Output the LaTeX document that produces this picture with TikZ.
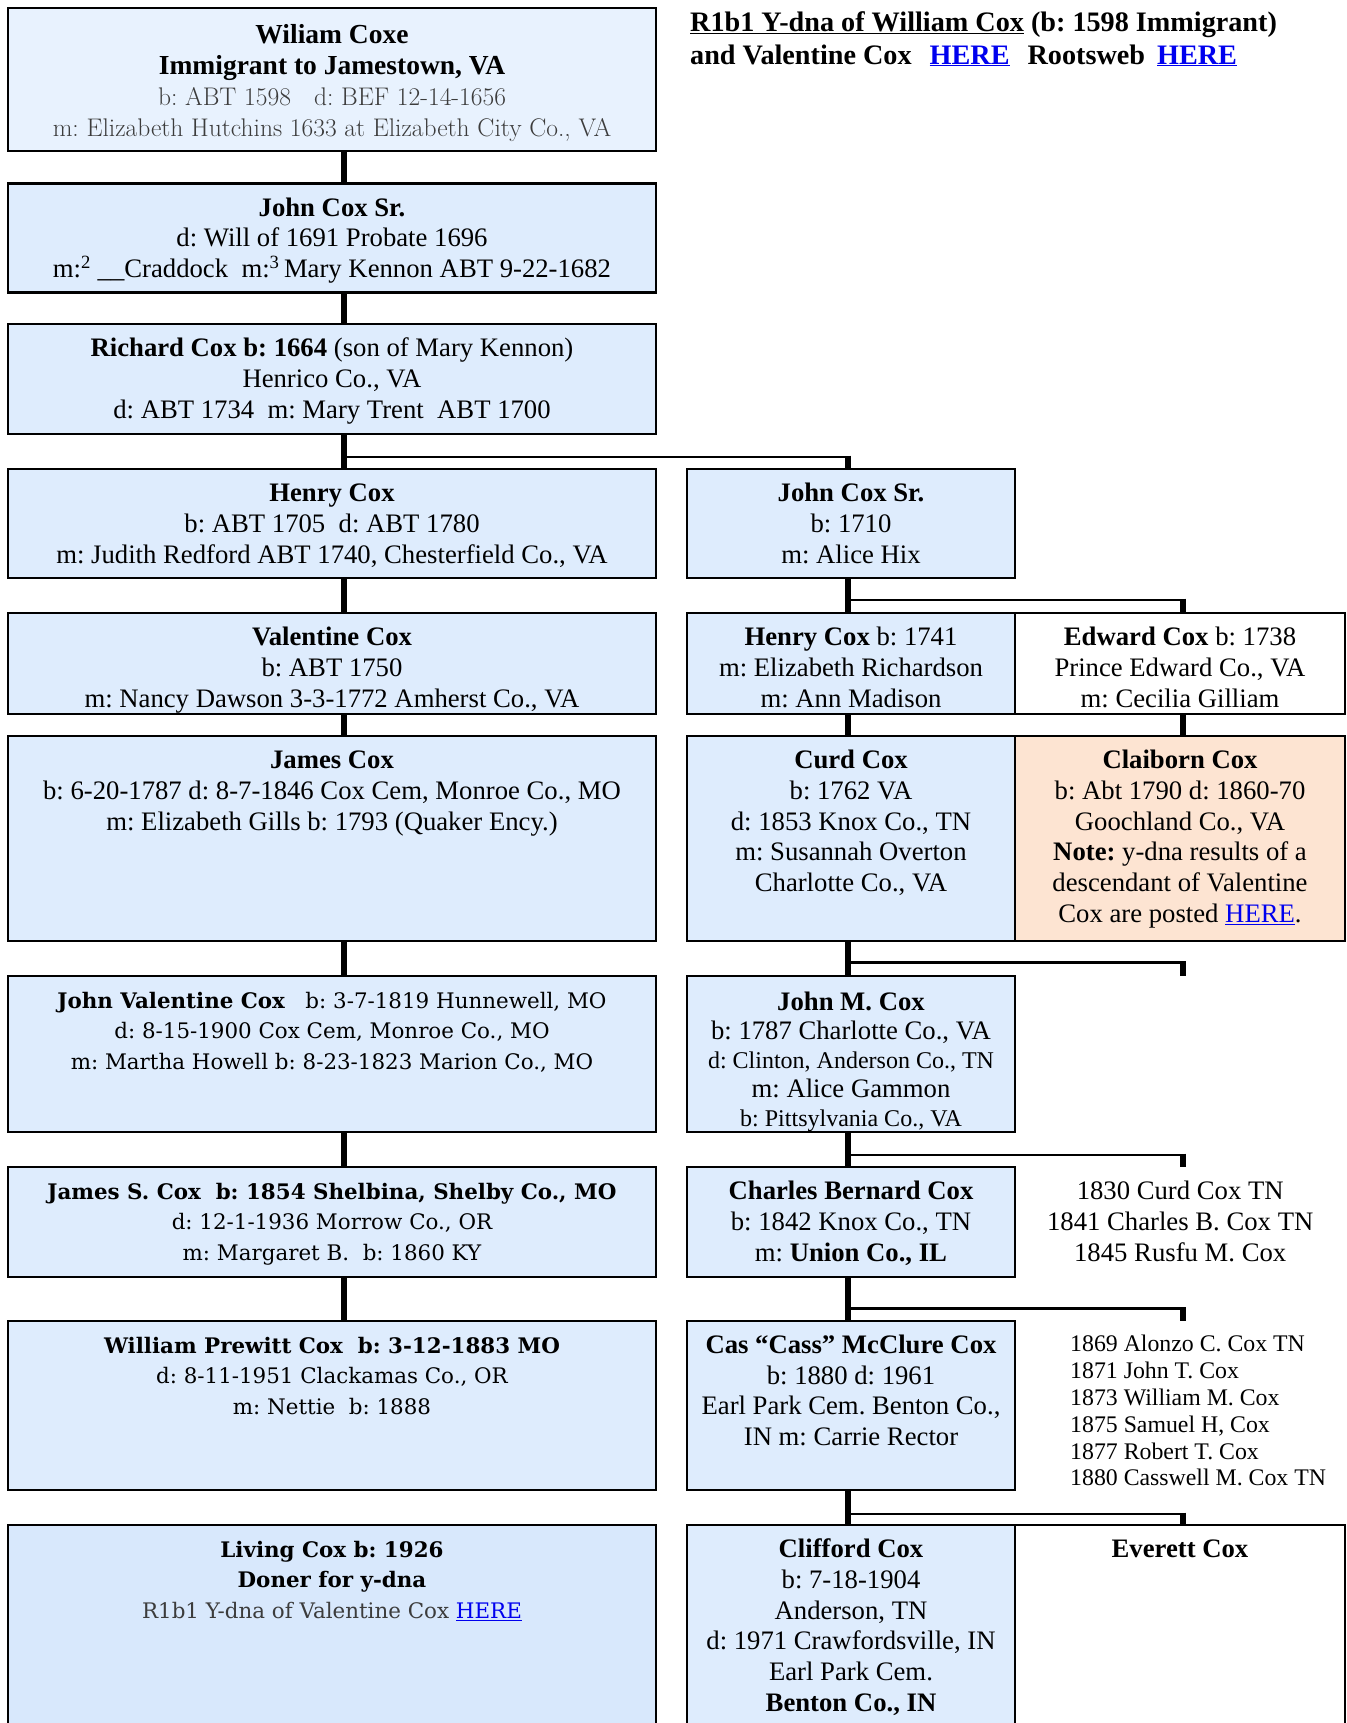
\documentclass[tikz,border=0pt]{standalone}
\usepackage{fontspec}
\setmainfont{Liberation Serif}
\newfontfamily\garfont{Latin Modern Roman}
\newfontfamily\widefont{DejaVu Serif}
\definecolor{famblue}{RGB}{222,236,253}
\definecolor{famlight}{RGB}{232,242,254}
\definecolor{famdeep}{RGB}{216,232,252}
\definecolor{fampeach}{RGB}{253,228,210}
\definecolor{linkblue}{RGB}{0,0,238}
\definecolor{softgray}{RGB}{60,60,60}
\newcommand{\famcell}[3]{\begin{minipage}[t][#2pt][t]{#1pt}\centering\vspace*{11pt}\strut#3\end{minipage}}
\newcommand{\herelink}{\textcolor{linkblue}{\underline{HERE}}}
\newcommand{\famhead}[1]{\textcolor{black}{\rmfamily\bfseries\fontsize{27.5}{31}\selectfont #1}}
\frenchspacing

\begin{document}
\begin{tikzpicture}[x=1pt,y=-1pt,
  fam/.style={draw, line width=2.2pt, fill=famblue, inner sep=0pt, outer sep=0pt, anchor=north west, font=\fontsize{26.7}{30.8}\selectfont},
  garfam/.style={fam, fill=famlight, font=\garfont\fontsize{25.5}{31}\selectfont\color{softgray}},
  widefam/.style={fam, font=\widefont\fontsize{21.4}{30.5}\selectfont},
  famnote/.style={inner sep=0pt, anchor=north west, font=\fontsize{26.7}{30.8}\selectfont},
  trunk/.style={line width=6pt},
  branch/.style={line width=2.6pt}]
\useasboundingbox (0,0) rectangle (1346,1723);

\node[anchor=north west, inner sep=0pt, font=\bfseries\fontsize{28.2}{33}\selectfont] (title) at (690,8)
  {\begin{minipage}[t]{650pt}\strut\underline{R1b1 Y-dna of William Cox} (b: 1598 Immigrant)\\
   and Valentine Cox\hspace{18pt}\herelink\hspace{18pt}Rootsweb\hspace{12pt}\herelink\end{minipage}};

% left line
\node[garfam] (william) at (8,7.7) {\famcell{648}{143}{\rule{0pt}{25pt}\famhead{Wiliam Coxe}\\
  \famhead{Immigrant to Jamestown, VA}\\ b: ABT 1598\ \ \ d: BEF 12-14-1656\\
  m: Elizabeth Hutchins 1633 at Elizabeth City Co., VA}};
\node[fam] (johnsr1) at (8,183.5) {\famcell{648}{109}{\textbf{John Cox Sr.}\\ d: Will of 1691 Probate 1696\\
  m:\textsuperscript{2} \_\_Craddock\ \ m:\textsuperscript{3}\,Mary Kennon ABT 9-22-1682}};
\node[fam] (richard) at (8,324) {\famcell{648}{110}{\textbf{Richard Cox b: 1664} (son of Mary Kennon)\\
  Henrico Co., VA\\ d: ABT 1734\ \ m: Mary Trent\ \ ABT 1700}};
\node[fam] (henry) at (8,469) {\famcell{648}{109}{\textbf{Henry Cox}\\ b: ABT 1705\ \ d: ABT 1780\\
  m: Judith Redford ABT 1740, Chesterfield Co., VA}};
\node[fam] (valentine) at (8,613) {\famcell{648}{101}{\textbf{Valentine Cox}\\ b: ABT 1750\\
  m: Nancy Dawson 3-3-1772 Amherst Co., VA}};
\node[fam] (james) at (8,736) {\famcell{648}{205}{\textbf{James Cox}\\
  b: 6-20-1787 d: 8-7-1846 Cox Cem, Monroe Co., MO\\ m: Elizabeth Gills b: 1793 (Quaker Ency.)}};
\node[widefam] (johnval) at (8,975.7) {\famcell{648}{156}{\textbf{John Valentine Cox}\ \ \ b: 3-7-1819 Hunnewell, MO\\
  d: 8-15-1900 Cox Cem, Monroe Co., MO\\ m: Martha Howell b: 8-23-1823 Marion Co., MO}};
\node[widefam] (jamess) at (8,1167) {\famcell{648}{110}{\textbf{James S. Cox\ \ b: 1854 Shelbina, Shelby Co., MO}\\
  d: 12-1-1936 Morrow Co., OR\\ m: Margaret B.\ \ b: 1860 KY}};
\node[widefam] (william2) at (8,1320.8) {\famcell{648}{169}{\textbf{William Prewitt Cox\ \ b: 3-12-1883 MO}\\
  d: 8-11-1951 Clackamas Co., OR\\ m: Nettie\ \ b: 1888}};
\node[widefam, fill=famdeep] (living) at (8,1525) {\famcell{648}{215}{\textbf{Living Cox b: 1926}\\ \textbf{Doner for y-dna}\\
  \textcolor{softgray}{R1b1 Y-dna of Valentine Cox} \herelink}};

% middle line
\node[fam] (johnsr2) at (687,469) {\famcell{328}{109}{\textbf{John Cox Sr.}\\ b: 1710\\ m: Alice Hix}};
\node[fam] (henry2) at (687,613) {\famcell{328}{101}{\textbf{Henry Cox} b: 1741\\ m: Elizabeth Richardson\\ m: Ann Madison}};
\node[fam] (curd) at (687,736) {\famcell{328}{205}{\textbf{Curd Cox}\\ b: 1762 VA\\ d: 1853 Knox Co., TN\\
  m: Susannah Overton\\ Charlotte Co., VA}};
\node[fam, font=\fontsize{26.7}{29}\selectfont] (johnm) at (687,975.7) {\famcell{328}{156}{\rule{0pt}{24pt}\textbf{John M. Cox}\\
  b: 1787 Charlotte Co., VA\\ {\fontsize{24}{29}\selectfont d: Clinton, Anderson Co., TN}\\
  m: Alice Gammon\\ {\fontsize{24}{29}\selectfont b: Pittsylvania Co., VA}}};
\node[fam] (charles) at (687,1167) {\famcell{328}{110}{\textbf{Charles Bernard Cox}\\ b: 1842 Knox Co., TN\\
  m: \textbf{Union Co., IL}}};
\node[fam] (cas) at (687,1320.8) {\famcell{328}{169}{\textbf{Cas “Cass” McClure Cox}\\ b: 1880 d: 1961\\
  Earl Park Cem. Benton Co.,\\ IN m: Carrie Rector}};
\node[fam] (clifford) at (687,1525) {\famcell{328}{215}{\textbf{Clifford Cox}\\ b: 7-18-1904\\ Anderson, TN\\
  d: 1971 Crawfordsville, IN\\ Earl Park Cem.\\ \textbf{Benton Co., IN}}};

% right line
\node[fam, fill=white] (edward) at (1015,613) {\famcell{330}{101}{\textbf{Edward Cox} b: 1738\\
  Prince Edward Co., VA\\ m: Cecilia Gilliam}};
\node[fam, fill=fampeach] (claiborn) at (1015,736) {\famcell{330}{205}{\textbf{Claiborn Cox}\\ b: Abt 1790 d: 1860-70\\
  Goochland Co., VA\\ \textbf{Note:} y-dna results of a\\ descendant of Valentine\\ Cox are posted \herelink.}};
\node[famnote] (kids1) at (1015,1167) {\famcell{330}{110}{1830 Curd Cox TN\\ 1841 Charles B. Cox TN\\ 1845 Rusfu M. Cox}};
\node[famnote, font=\fontsize{23.8}{26.8}\selectfont] (kids2) at (1070,1333) {\begin{minipage}[t]{270pt}\strut
  1869 Alonzo C. Cox TN\\ 1871 John T. Cox\\ 1873 William M. Cox\\ 1875 Samuel H, Cox\\
  1877 Robert T. Cox\\ 1880 Casswell M. Cox TN\end{minipage}};
\node[fam, fill=white] (everett) at (1015,1525) {\famcell{330}{215}{\textbf{Everett Cox}}};

\coordinate (trunkL) at (344,0);
\coordinate (trunkM) at (848,0);
\coordinate (trunkR) at (1183,0);
\foreach \a/\b in {william/johnsr1, johnsr1/richard, richard/henry, henry/valentine,
  valentine/james, james/johnval, johnval/jamess, jamess/william2}
  \draw[trunk] (\a.south -| trunkL) -- (\b.north -| trunkL);
\foreach \a/\b in {johnsr2/henry2, henry2/curd, curd/johnm, johnm/charles, charles/cas, cas/clifford}
  \draw[trunk] (\a.south -| trunkM) -- (\b.north -| trunkM);
\draw[trunk] (edward.south -| trunkR) -- (claiborn.north -| trunkR);

\coordinate (forkA) at (848,457);
\draw[branch] (forkA -| trunkL) -- ([xshift=3pt]forkA);
\draw[trunk] ([yshift=1.3pt]forkA) -- (johnsr2.north -| forkA);
\coordinate (forkB) at (1183,600);
\draw[branch] (forkB -| trunkM) -- ([xshift=3pt]forkB);
\draw[trunk] ([yshift=1.3pt]forkB) -- (edward.north -| forkB);
\coordinate (forkF) at (1183,1514);
\draw[branch] (forkF -| trunkM) -- ([xshift=3pt]forkF);
\draw[trunk] ([yshift=1.3pt]forkF) -- (everett.north -| forkF);
\foreach \n/\y/\e in {C/962.5/975.7, D/1154.8/1167, E/1308.7/1320.8}{
  \coordinate (fork\n) at (1183,\y);
  \coordinate (stub\n) at (1183,\e);
  \draw[branch] (fork\n -| trunkM) -- ([xshift=3pt]fork\n);
  \draw[trunk] ([yshift=1.3pt]fork\n) -- (stub\n);
}
\end{tikzpicture}
\end{document}
